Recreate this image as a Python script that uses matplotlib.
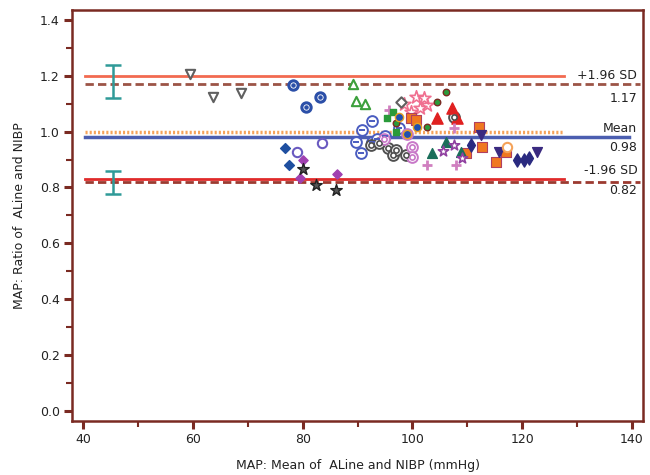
#!/usr/bin/env python3
"""Bland-Altman style ratio plot: ALine vs NIBP mean arterial pressure."""
import matplotlib
matplotlib.use('Agg')
import matplotlib.pyplot as plt
from matplotlib.ticker import MultipleLocator

# Reference lines (ratio values)
upper_loa = 1.20
upper_loa_ci = 1.17
mean_ref = 1.00
mean_ratio = 0.98
lower_loa = 0.83
lower_loa_ci = 0.82

# Confidence interval whiskers for the limits of agreement
ci_x = [45.5, 45.5]
ci_lo = [1.12, 0.775]
ci_hi = [1.24, 0.86]

# Scatter groups (x = mean MAP, y = ratio)
gray_tri_x = [59.5, 63.6, 68.7]
gray_tri_y = [1.206, 1.123, 1.140]

blue_dot_x = [78.2, 80.7, 83.1]
blue_dot_y = [1.167, 1.088, 1.123]

blue_dia_x = [76.7, 77.5]
blue_dia_y = [0.940, 0.879]

purple_ring_x = [78.9, 83.5]
purple_ring_y = [0.926, 0.958]

purple_dia_x = [80.0, 79.5, 86.2]
purple_dia_y = [0.900, 0.833, 0.850]

black_star_x = [80.0, 82.4, 86.0]
black_star_y = [0.868, 0.808, 0.790]

green_tri_x = [89.1, 89.8, 91.3]
green_tri_y = [1.170, 1.109, 1.100]

blue_line_x = [90.9, 92.7, 89.8, 90.7, 92.7, 95.0, 97.6, 93.5]
blue_line_y = [1.005, 1.037, 0.962, 0.922, 0.962, 0.985, 1.012, 0.975]

gray_target_x = [92.5, 95.5, 96.4, 97.1, 98.9, 94.0, 107.6]
gray_target_y = [0.951, 0.940, 0.915, 0.933, 0.915, 0.960, 1.052]

pink_target_x = [94.9, 100.0, 100.0, 99.0]
pink_target_y = [0.973, 0.944, 0.908, 0.990]

pink_star_x = [100.7, 102.7, 101.3, 102.2, 99.8, 98.5]
pink_star_y = [1.123, 1.095, 1.084, 1.120, 1.070, 1.100]

green_sq_x = [95.3, 96.4, 97.0]
green_sq_y = [1.048, 1.070, 1.000]

green_dot_x = [106.2, 104.5, 102.7, 97.0]
green_dot_y = [1.141, 1.106, 1.016, 1.030]

blue_fill_x = [97.6, 100.9, 99.0]
blue_fill_y = [1.052, 1.016, 0.990]

red_tri_x = [107.3, 104.5, 108.2]
red_tri_y = [1.084, 1.048, 1.048]

gray_dia_x = [98.0]
gray_dia_y = [1.106]

orange_sq_x = [99.8, 100.7, 112.2, 112.7, 117.1, 115.3, 109.8]
orange_sq_y = [1.048, 1.041, 1.016, 0.944, 0.926, 0.890, 0.922]

teal_tri_x = [106.2, 103.6, 108.9]
teal_tri_y = [0.962, 0.922, 0.926]

pink_plus_x = [95.8, 107.6, 102.7, 108.0]
pink_plus_y = [1.077, 1.012, 0.879, 0.879]

purple_x_x = [107.6, 109.0, 105.5]
purple_x_y = [0.951, 0.905, 0.930]

navy_tri_x = [112.5, 115.8, 122.7]
navy_tri_y = [0.987, 0.926, 0.926]

navy_dia_x = [110.7, 119.1, 120.4, 121.3]
navy_dia_y = [0.951, 0.897, 0.897, 0.904]

orange_ring_x = [117.3]
orange_ring_y = [0.944]

edge = '#7a2a22'

fig = plt.figure(figsize=(6.5, 4.75), dpi=100)
ax = fig.add_axes([0.111, 0.114, 0.878, 0.865])

# Reference lines
ax.plot([40.4, 127.6], [upper_loa, upper_loa], color='#f26a50', lw=2)
ax.plot([40.4, 141.5], [upper_loa_ci, upper_loa_ci], color='#9c5446',
        lw=2, ls=(0, (3, 1.5)))
ax.plot([40.4, 127.6], [mean_ref, mean_ref], color='#f5a35a',
        lw=2.5, ls=(0, (0.6, 0.6)))
ax.plot([40.4, 139.5], [mean_ratio, mean_ratio], color='#4b5eb0', lw=2.5)
ax.plot([40.4, 127.6], [lower_loa, lower_loa], color='#e02a2a', lw=2)
ax.plot([40.4, 141.5], [lower_loa_ci, lower_loa_ci], color='#9c3a30',
        lw=2, ls=(0, (3, 1.5)))

# Confidence interval whiskers
ax.errorbar(ci_x, [(a + b) / 2 for a, b in zip(ci_lo, ci_hi)],
            yerr=[[(b - a) / 2 for a, b in zip(ci_lo, ci_hi)]] * 2,
            fmt='none', ecolor='#2f9a98', elinewidth=1.8, capsize=6,
            capthick=1.8)

# Labels at the right
for txt, y in [('+1.96 SD', 1.203), ('1.17', 1.12),
               ('Mean', 1.012), ('0.98', 0.945),
               ('-1.96 SD', 0.862), ('0.82', 0.79)]:
    ax.text(141.0, y, txt, ha='right', va='center', fontsize=9,
            color='#222222')

# Scatter points
ms = 45
ax.scatter(gray_tri_x, gray_tri_y, marker='v', s=ms, facecolor='white',
           edgecolor='#606060', lw=1.5, zorder=3)
ax.scatter(blue_dot_x, blue_dot_y, marker='o', s=ms, facecolor='white',
           edgecolor='#2b4fa8', lw=2.2, zorder=3)
ax.scatter(blue_dot_x, blue_dot_y, marker='o', s=5, color='#2b4fa8', zorder=4)
ax.scatter(blue_dia_x, blue_dia_y, marker='D', s=25, color='#1f4fa0',
           zorder=3)
ax.scatter(purple_ring_x, purple_ring_y, marker='o', s=ms, facecolor='white',
           edgecolor='#6a5ac0', lw=1.5, zorder=3)
ax.scatter(purple_dia_x, purple_dia_y, marker='D', s=22, color='#a040b0',
           zorder=3)
ax.scatter(black_star_x, black_star_y, marker='*', s=75, facecolor='#555555',
           edgecolor='#222222', lw=1, zorder=3)
ax.scatter(green_tri_x, green_tri_y, marker='^', s=ms, facecolor='white',
           edgecolor='#3ca03c', lw=1.5, zorder=3)
ax.scatter(blue_line_x, blue_line_y, marker='o', s=60, facecolor='white',
           edgecolor='#4a5cc0', lw=1.4, zorder=3)
ax.scatter(blue_line_x, blue_line_y, marker='_', s=25, color='#4a5cc0',
           lw=1.4, zorder=4)
ax.scatter(gray_target_x, gray_target_y, marker='o', s=60, facecolor='white',
           edgecolor='#505050', lw=1.4, zorder=3)
ax.scatter(gray_target_x, gray_target_y, marker='o', s=14, facecolor='white',
           edgecolor='#505050', lw=1.2, zorder=4)
ax.scatter(pink_target_x, pink_target_y, marker='o', s=60, facecolor='white',
           edgecolor='#c878c8', lw=1.4, zorder=3)
ax.scatter(pink_target_x, pink_target_y, marker='o', s=14, facecolor='white',
           edgecolor='#c878c8', lw=1.2, zorder=4)
ax.scatter(pink_star_x, pink_star_y, marker='*', s=95, facecolor='white',
           edgecolor='#f07090', lw=1.2, zorder=3)
ax.scatter(green_sq_x, green_sq_y, marker='s', s=20, color='#2a9a3a',
           zorder=4)
ax.scatter(green_dot_x, green_dot_y, marker='o', s=22, facecolor='#2a9a3a',
           edgecolor='#7a2a22', lw=1, zorder=4)
ax.scatter(blue_fill_x, blue_fill_y, marker='o', s=35, facecolor='#2050b0',
           edgecolor='#e8a020', lw=1, zorder=4)
ax.scatter(red_tri_x, red_tri_y, marker='^', s=65, color='#e02020', zorder=3)
ax.scatter(gray_dia_x, gray_dia_y, marker='D', s=28, facecolor='white',
           edgecolor='#606060', lw=1.5, zorder=3)
ax.scatter(orange_sq_x, orange_sq_y, marker='s', s=48, facecolor='#f07820',
           edgecolor='#b04060', lw=0.8, zorder=3)
ax.scatter(teal_tri_x, teal_tri_y, marker='^', s=50, color='#1a6e5a',
           zorder=3)
ax.scatter(pink_plus_x, pink_plus_y, marker='+', s=60, color='#d080c0',
           lw=2, zorder=3)
ax.scatter(purple_x_x, purple_x_y, marker='*', s=60, facecolor='white',
           edgecolor='#9040a0', lw=1.2, zorder=3)
ax.scatter(navy_tri_x, navy_tri_y, marker='v', s=50, color='#3a2a80',
           zorder=3)
ax.scatter(navy_dia_x, navy_dia_y, marker='d', s=45, color='#2a2a80',
           zorder=3)
ax.scatter(orange_ring_x, orange_ring_y, marker='o', s=45, facecolor='white',
           edgecolor='#f5a35a', lw=1.5, zorder=3)

# Axes styling
ax.set_xlim(38, 142)
ax.set_ylim(-0.036, 1.436)
ax.xaxis.set_major_locator(MultipleLocator(20))
ax.xaxis.set_minor_locator(MultipleLocator(10))
ax.yaxis.set_major_locator(MultipleLocator(0.2))
ax.yaxis.set_minor_locator(MultipleLocator(0.1))
ax.yaxis.set_major_formatter(plt.FormatStrFormatter('%.1f'))
for s in ax.spines.values():
    s.set_color(edge)
    s.set_linewidth(1.8)
ax.tick_params(which='major', direction='out', length=6, width=2.2,
               color=edge, labelsize=9, labelcolor='#222222', pad=3)
ax.tick_params(which='minor', direction='out', length=4, width=1.5,
               color=edge)

ax.set_xlabel('MAP: Mean of  ALine and NIBP (mmHg)', fontsize=9,
              color='#222222', labelpad=9)
ax.set_ylabel('MAP: Ratio of  ALine and NIBP', fontsize=9, color='#222222',
              labelpad=10)

fig.savefig('out.png', dpi=100)
